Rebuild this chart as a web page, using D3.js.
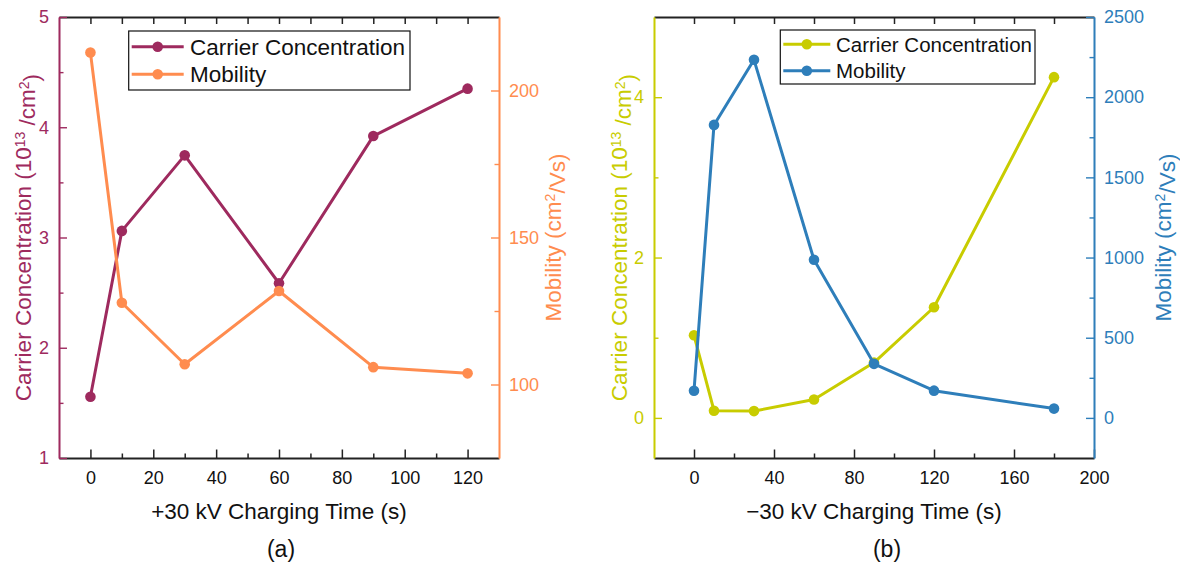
<!DOCTYPE html>
<html>
<head>
<meta charset="utf-8">
<script src="https://cdn.jsdelivr.net/npm/d3@7"></script>
<style>
  body { margin: 0; background: #fff; }
  svg { font-family: "Liberation Sans", Arial, sans-serif; }
</style>
</head>
<body>
<div id="chart-area"></div>
<script>
// values
var timeA = [0, 10, 30, 60, 90, 120];
var carrierA = [1.556, 3.06, 3.745, 2.585, 3.92, 4.35];
var mobilityA = [212.9, 127.8, 106.9, 131.8, 105.9, 103.8];

var timeB = [0, 10, 30, 60, 90, 120, 180];
var carrierB = [1.03, 0.09, 0.085, 0.23, 0.69, 1.38, 4.25];
var mobilityB = [169, 1827, 2233, 986, 337, 170, 58];

// ticks
var xMajorA = [0, 20, 40, 60, 80, 100, 120];
var xMinorA = [10, 30, 50, 70, 90, 110];
var xTopA = [0, 10, 20, 30, 40, 50, 60, 70, 80, 90, 100, 110, 120];
var yLeftMajorA = [1, 2, 3, 4, 5];
var yLeftMinorA = [1.5, 2.5, 3.5, 4.5];
var yRightMajorA = [100, 150, 200];
var yRightMinorA = [125, 175];

var xMajorB = [0, 40, 80, 120, 160, 200];
var xMinorB = [20, 60, 100, 140, 180];
var xTopB = [0, 20, 40, 60, 80, 100, 120, 140, 160, 180];
var yLeftMajorB = [0, 2, 4];
var yLeftMinorB = [1, 3];
var yRightMajorB = [0, 500, 1000, 1500, 2000, 2500];
var yRightMinorB = [250, 750, 1250, 1750, 2250];

var width = 1180, height = 567;
var svg = d3.select("#chart-area").append("svg")
    .attr("width", width).attr("height", height);

var plain = function(d) { return "" + d; };

function drawPanel(p) {
    var x = d3.scaleLinear().domain(p.xDomain).range([p.left, p.right]);
    var yL = d3.scaleLinear().domain(p.yLDomain).range([p.bottom, p.top]);
    var yR = d3.scaleLinear().domain(p.yRDomain).range([p.bottom, p.top]);
    var g = svg.append("g");

    // top axis (ticks only, inward)
    var top = g.append("g").attr("transform", "translate(0," + p.top + ")")
        .call(d3.axisTop(x).tickValues(p.xTop).tickSizeInner(-7).tickSizeOuter(0).tickFormat(""));
    // bottom axis
    var bot = g.append("g").attr("transform", "translate(0," + p.bottom + ")")
        .call(d3.axisBottom(x).tickValues(p.xMajor).tickSizeInner(-8.5).tickSizeOuter(0).tickPadding(13.5).tickFormat(plain));
    var botMinor = g.append("g").attr("transform", "translate(0," + p.bottom + ")")
        .call(d3.axisBottom(x).tickValues(p.xMinor).tickSizeInner(-4.5).tickSizeOuter(0).tickFormat(""));
    [top, bot, botMinor].forEach(function(a) {
        a.selectAll("path").attr("stroke", "#222").attr("stroke-width", 1.8);
        a.selectAll("line").attr("stroke", "#222").attr("stroke-width", 1.5);
        a.selectAll("text").attr("fill", "#111").attr("font-size", "18px")
            .attr("font-family", "Liberation Sans, Arial, sans-serif");
    });
    botMinor.select("path").remove();

    // left axis
    var left = g.append("g").attr("transform", "translate(" + p.left + ",0)")
        .call(d3.axisLeft(yL).tickValues(p.yLMajor).tickSizeInner(-8).tickSizeOuter(0).tickPadding(10).tickFormat(plain));
    var leftMinor = g.append("g").attr("transform", "translate(" + p.left + ",0)")
        .call(d3.axisLeft(yL).tickValues(p.yLMinor).tickSizeInner(-4.5).tickSizeOuter(0).tickFormat(""));
    // right axis
    var right = g.append("g").attr("transform", "translate(" + p.right + ",0)")
        .call(d3.axisRight(yR).tickValues(p.yRMajor).tickSizeInner(-8).tickSizeOuter(0).tickPadding(10).tickFormat(plain));
    var rightMinor = g.append("g").attr("transform", "translate(" + p.right + ",0)")
        .call(d3.axisRight(yR).tickValues(p.yRMinor).tickSizeInner(-4.5).tickSizeOuter(0).tickFormat(""));
    [[left, p.colL], [leftMinor, p.colL], [right, p.colR], [rightMinor, p.colR]].forEach(function(a) {
        a[0].selectAll("path").attr("stroke", a[1]).attr("stroke-width", 1.6);
        a[0].selectAll("line").attr("stroke", a[1]).attr("stroke-width", 1.4);
        a[0].selectAll("text").attr("fill", a[1]).attr("font-size", "18px")
            .attr("font-family", "Liberation Sans, Arial, sans-serif");
    });

    // series
    var lineL = d3.line().x(function(d, i) { return x(p.time[i]); }).y(function(d) { return yL(d); });
    var lineR = d3.line().x(function(d, i) { return x(p.time[i]); }).y(function(d) { return yR(d); });

    var drawSeries = function(vals, line, sc, col) {
        g.append("path").datum(vals).attr("d", line)
            .attr("fill", "none").attr("stroke", col).attr("stroke-width", 3)
            .attr("stroke-linejoin", "round");
        g.selectAll(null).data(vals).enter().append("circle")
            .attr("cx", function(d, i) { return x(p.time[i]); })
            .attr("cy", function(d) { return sc(d); })
            .attr("r", 5.3).attr("fill", col);
    };
    drawSeries(p.carrier, lineL, yL, p.colL);
    drawSeries(p.mobility, lineR, yR, p.colR);

    // legend
    var lg = p.legend;
    g.append("rect").attr("x", lg.x).attr("y", lg.y).attr("width", lg.w).attr("height", lg.h)
        .attr("fill", "#fff").attr("stroke", "#111").attr("stroke-width", 1.2);
    [["Carrier Concentration", p.colL], ["Mobility", p.colR]].forEach(function(item, i) {
        var yy = lg.rows[i];
        g.append("line").attr("x1", lg.x + 3).attr("x2", lg.x + lg.lineLen + 3)
            .attr("y1", yy).attr("y2", yy).attr("stroke", item[1]).attr("stroke-width", 3);
        g.append("circle").attr("cx", lg.x + 3 + lg.lineLen / 2).attr("cy", yy).attr("r", 5.3).attr("fill", item[1]);
        g.append("text").attr("x", lg.textX).attr("y", yy).attr("dy", "0.36em")
            .attr("font-size", lg.font + "px").attr("fill", "#111").text(item[0]);
    });

    // axis titles
    g.append("text").attr("x", (p.left + p.right) / 2).attr("y", 519)
        .attr("text-anchor", "middle").attr("font-size", "22.5px").attr("fill", "#111").text(p.xLabel);
    g.append("text").attr("x", p.panelX).attr("y", 557)
        .attr("text-anchor", "middle").attr("font-size", "23px").attr("fill", "#111").text(p.panelName);

    var midY = (p.top + p.bottom) / 2;
    var tl = g.append("text").attr("transform", "translate(" + p.yLabelLX + "," + midY + ") rotate(-90)")
        .attr("text-anchor", "middle").attr("font-size", "22.5px").attr("fill", p.colL);
    tl.append("tspan").text("Carrier Concentration (10");
    tl.append("tspan").attr("dy", "-0.45em").attr("font-size", "14px").text("13");
    tl.append("tspan").attr("dy", "0.45em").text(" /cm");
    tl.append("tspan").attr("dy", "-0.45em").attr("font-size", "14px").text("2");
    tl.append("tspan").attr("dy", "0.45em").text(")");

    var tr = g.append("text").attr("transform", "translate(" + p.yLabelRX + "," + midY + ") rotate(-90)")
        .attr("text-anchor", "middle").attr("font-size", "22.5px").attr("fill", p.colR);
    tr.append("tspan").text("Mobility (cm");
    tr.append("tspan").attr("dy", "-0.45em").attr("font-size", "14px").text("2");
    tr.append("tspan").attr("dy", "0.45em").text("/Vs)");
}

drawPanel({
    left: 59, right: 499, top: 17, bottom: 458,
    xDomain: [-10, 130], yLDomain: [1, 5], yRDomain: [75, 225],
    xMajor: xMajorA, xMinor: xMinorA, xTop: xTopA,
    yLMajor: yLeftMajorA, yLMinor: yLeftMinorA, yRMajor: yRightMajorA, yRMinor: yRightMinorA,
    time: timeA, carrier: carrierA, mobility: mobilityA,
    colL: "#9e2a5e", colR: "#ff8c4f",
    legend: { x: 128.7, y: 31, w: 281.3, h: 59, rows: [46.7, 74.3], lineLen: 52, textX: 190, font: 22.5 },
    xLabel: "+30 kV Charging Time (s)", panelName: "(a)", panelX: 281,
    yLabelLX: 31, yLabelRX: 561
});

drawPanel({
    left: 654, right: 1094, top: 17, bottom: 458,
    xDomain: [-20, 200], yLDomain: [-0.5, 5], yRDomain: [-250, 2500],
    xMajor: xMajorB, xMinor: xMinorB, xTop: xTopB,
    yLMajor: yLeftMajorB, yLMinor: yLeftMinorB, yRMajor: yRightMajorB, yRMinor: yRightMinorB,
    time: timeB, carrier: carrierB, mobility: mobilityB,
    colL: "#c8cc00", colR: "#2e7eba",
    legend: { x: 780.3, y: 30, w: 254.7, h: 54, rows: [44.3, 70.7], lineLen: 47, textX: 836, font: 20.5 },
    xLabel: "\u221230 kV Charging Time (s)", panelName: "(b)", panelX: 887,
    yLabelLX: 627, yLabelRX: 1171
});
</script>
</body>
</html>
